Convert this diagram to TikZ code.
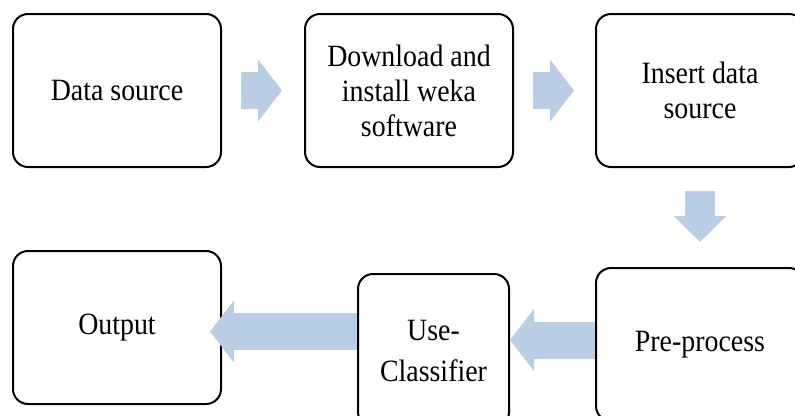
\documentclass[tikz,border=0pt]{standalone}
\usepackage{fontspec}
\setmainfont{Liberation Serif}[FakeStretch=0.9]
\usepackage{xcolor}
\usetikzlibrary{arrows.meta,positioning}
\definecolor{flowblue}{RGB}{185,205,229}

\begin{document}
\begin{tikzpicture}[
    x=1pt, y=-1pt,
    box/.style = {rectangle, draw, line width=2pt, rounded corners=15pt, minimum width=208pt, minimum height=153pt, align=center, inner sep=0pt, font=\fontsize{31}{35}\selectfont},
    flow/.style = {draw=flowblue, line width=37pt, -{Triangle[width=61pt,length=24pt]}},
    flowdown/.style = {draw=flowblue, line width=30pt, -{Triangle[width=51pt,length=26pt]}}
]
\useasboundingbox (0,0) rectangle (795,415);
\clip (0,0) rectangle (795,415);
\node[box] (source) at (117,90.5) {Data source};
\node[box] (weka) at (409,90.5) {Download and\\install weka\\software};
\node[box] (insert) at (700,90.5) {Insert data\\source};
\node[box] (preprocess) at (700,344.5) {Pre-process};
\node[box, minimum width=151pt] (classifier) at (433.5,350.5) {Use-\\[6pt]Classifier};
\node[box] (output) at (117,327.5) {Output};

\draw[flow, shorten <=19pt, shorten >=22pt] (source) -- (weka);
\draw[flow, shorten <=19pt, shorten >=21pt] (weka) -- (insert);
\draw[flowdown, shorten <=23pt, shorten >=25pt] (insert) -- (preprocess);
\draw[flow] ([yshift=4.5pt]preprocess.west) -- ([yshift=10.5pt]classifier.east);
\draw[flow, shorten >=-12pt] ([yshift=19pt]classifier.west) -- ([yshift=-4pt]output.east);
\end{tikzpicture}
\end{document}
